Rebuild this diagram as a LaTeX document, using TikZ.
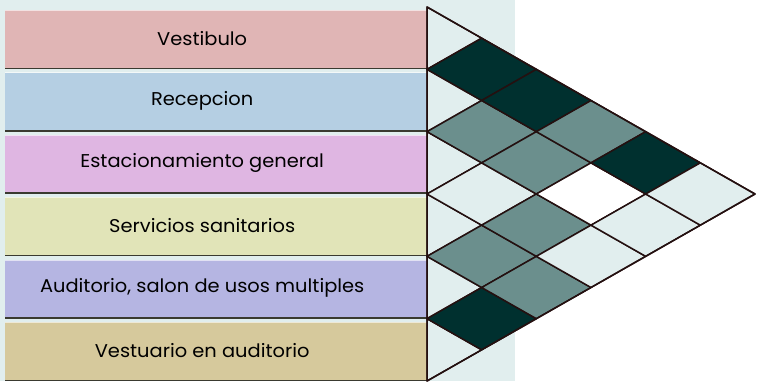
\documentclass[tikz,border=0pt]{standalone}
\usepackage{fontspec}
\setmainfont{Poppins}[FakeStretch=1.05]
\definecolor{bgl}{HTML}{E1EEEE}
\definecolor{cdark}{HTML}{00302F}
\definecolor{cgrey}{HTML}{6B8F8D}
\definecolor{clight}{HTML}{E1EEEE}
\definecolor{cwhite}{HTML}{FFFFFF}
\definecolor{gridline}{HTML}{241010}
\definecolor{rowA}{HTML}{E0B5B5}
\definecolor{rowB}{HTML}{B5CFE3}
\definecolor{rowC}{HTML}{DFB6E2}
\definecolor{rowD}{HTML}{E1E4B8}
\definecolor{rowE}{HTML}{B5B5E2}
\definecolor{rowF}{HTML}{D6C99C}
\definecolor{rowedge}{HTML}{3A3A30}
\tikzset{
  rowbox/.style={rectangle, draw=none, minimum width=422pt, minimum height=58pt, anchor=north west, inner sep=0pt},
  rowtext/.style={font=\fontsize{18.5}{20}\selectfont, text=black, inner sep=0pt},
  cell/.style={draw=gridline, line width=1.5pt, line join=round},
}
\begin{document}
\begin{tikzpicture}[x=1pt,y=-1pt]
\useasboundingbox (0,0) rectangle (759,381);
\fill[bgl] (0,0) rectangle (515,381);
% rows
\foreach \k/\col/\lab in {1/rowA/Vestibulo,2/rowB/Recepcion,3/rowC/Estacionamiento general,4/rowD/Servicios sanitarios,5/rowE/{Auditorio, salon de usos multiples},6/rowF/Vestuario en auditorio}{
  \pgfmathsetmacro{\yt}{10+62.4*(\k-1)}
  \node[rowbox, fill=\col] (row\k) at (5,\yt) {};
  \node[rowtext] (lab\k) at ([xshift=-14pt,yshift=1pt]row\k.center) {\lab};
  \draw[white, opacity=0.6, line width=1pt] ([yshift=-0.5pt]row\k.north west) -- ([yshift=-0.5pt]row\k.north east);
  \draw[rowedge, line width=1.5pt] (row\k.south west) -- (row\k.south east);
}
% triangle cells
\def\hx{54.667}
\def\hy{31.167}
\foreach \k in {1,...,6}{
  \pgfmathsetmacro{\ya}{7+2*\hy*(\k-1)}
  \pgfmathsetmacro{\yb}{7+2*\hy*(\k-0.5)}
  \pgfmathsetmacro{\yc}{7+2*\hy*\k}
  \filldraw[cell, fill=clight] (427,\ya) -- (427+\hx,\yb) -- (427,\yc) -- cycle;
}
\foreach \i/\j/\c in {1/2/cdark,2/3/cgrey,1/3/cdark,3/4/clight,2/4/cgrey,1/4/cgrey,4/5/cgrey,3/5/cgrey,2/5/cwhite,1/5/cdark,5/6/cdark,4/6/cgrey,3/6/clight,2/6/clight,1/6/clight}{
  \pgfmathsetmacro{\cx}{427+\hx*(\j-\i)}
  \pgfmathsetmacro{\cy}{7+\hy*(\i+\j-1)}
  \filldraw[cell, fill=\c] (\cx-\hx,\cy) -- (\cx,\cy-\hy) -- (\cx+\hx,\cy) -- (\cx,\cy+\hy) -- cycle;
}
\coordinate (tA) at (427,7);
\coordinate (tB) at (755,194);
\coordinate (tC) at (427,381);
\draw[cell] (tA) -- (tB) -- (tC) -- cycle;
\end{tikzpicture}
\end{document}
